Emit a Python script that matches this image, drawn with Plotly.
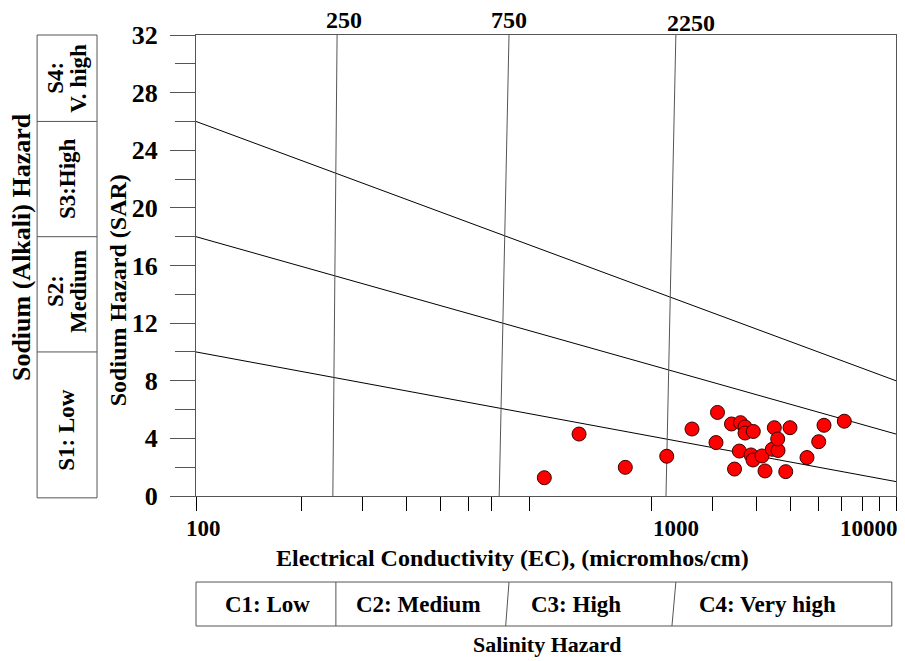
import math
import plotly.graph_objects as go

# ---- data ----
ec = [989, 1243, 1685, 2213, 2613, 3090, 3060, 3388, 3595, 3704, 3704, 3911, 3457, 3567,
      3852, 3903, 4141, 4224, 4432, 4602, 4491, 4592, 4979, 4841, 5568, 6014, 6227, 7117]
sar = [1.27, 4.30, 1.99, 2.76, 4.65, 5.80, 3.71, 5.00, 5.09, 4.79, 4.37, 4.48, 1.87, 3.12,
       2.85, 2.50, 2.78, 1.74, 3.24, 3.16, 4.74, 3.96, 4.74, 1.69, 2.67, 3.77, 4.91, 5.19]

# sodium-hazard boundary lines (SAR at EC=100 and EC=10000)
haz_left = [10.0, 18.0, 26.0]
haz_right = [1.0, 4.3, 8.0]
haz_ec = [100, 10000]

# salinity boundaries (slightly slanted in the reference): bottom / top EC
sal_names = ["250", "750", "2250"]
sal_bottom = [246, 735, 2202]
sal_top = [253, 784, 2350]

# axis ticks
x_ticks = [100, 200, 300, 400, 500, 600, 700, 900, 2000, 3000, 4000, 5000, 6000, 7000, 8000, 9000, 10000]
x_label_text = ["100", "1000", "10000"]
x_label_at = [100, 2000, 10000]
y_major = [0, 4, 8, 12, 16, 20, 24, 28, 32]
y_minor = [2, 6, 10, 14, 18, 22, 26, 30]

sodium_classes = [["S1: Low"], ["S2:", "Medium"], ["S3:High"], ["S4:", "V. high"]]
sodium_mid = [4.6, 14.2, 22.0, 29.0]
salinity_classes = ["C1: Low", "C2: Medium", "C3: High", "C4: Very high"]
salinity_mid = [160, 432, 1220, 4300]
div_bottom = [251, 767, 2290]
div_top = [251, 784, 2350]

FONT = "Liberation Serif, Times New Roman, serif"
AX = "#555555"


def px(v):
    """EC value -> paper x on the log axis (range 100..10000)."""
    return (math.log10(v) - 2.0) / 2.0


def bold(size):
    return dict(family=FONT, size=size, color="black", weight="bold")


fig = go.Figure()

for yl, yr in zip(haz_left, haz_right):
    fig.add_trace(go.Scatter(x=haz_ec, y=[yl, yr], mode="lines",
                             line=dict(color="black", width=1), hoverinfo="skip", showlegend=False))
for b, t in zip(sal_bottom, sal_top):
    fig.add_trace(go.Scatter(x=[b, t], y=[0, 32], mode="lines",
                             line=dict(color="#555555", width=1), hoverinfo="skip", showlegend=False))

fig.add_trace(go.Scatter(x=ec, y=sar, mode="markers",
                         marker=dict(size=14, color="#ff0000", line=dict(color="#3a0000", width=1)),
                         showlegend=False))

ann = []
# x labels (offset from the ticks as in the reference)
x_anchor = ["left", "left", "right"]
x_shift = [-12, 0, 4]
for t, v, a, s in zip(x_label_text, x_label_at, x_anchor, x_shift):
    ann.append(dict(x=math.log10(v), y=0, xref="x", yref="y", text=t, showarrow=False,
                    xanchor=a, yanchor="top", xshift=s, yshift=-18, font=bold(23)))
# top salinity boundary labels
top_shift = [7, 0, 15]
top_yshift = [0, 0, -3]
for n, t, s, ys in zip(sal_names, sal_top, top_shift, top_yshift):
    ann.append(dict(x=math.log10(t), y=1, xref="x", yref="paper", text=n, showarrow=False,
                    xanchor="center", yanchor="bottom", xshift=s, yshift=ys, font=bold(24)))

# left (sodium) box
box_x0, box_x1 = -0.227, -0.1414
edges = [10, 18, 26]
shapes = [dict(type="rect", xref="paper", yref="paper", x0=box_x0, x1=box_x1, y0=-0.004, y1=1,
               line=dict(color=AX, width=1))]
for e in edges:
    shapes.append(dict(type="line", xref="paper", yref="y", x0=box_x0, x1=box_x1, y0=e, y1=e,
                       line=dict(color=AX, width=1)))
for lines, m in zip(sodium_classes, sodium_mid):
    n = len(lines)
    for i, txt in enumerate(lines):
        ann.append(dict(x=(box_x0 + box_x1) / 2, y=m, xref="paper", yref="y", text=txt,
                        showarrow=False, textangle=-90, xanchor="center", yanchor="middle",
                        xshift=(i - (n - 1) / 2) * 23, font=bold(23)))

# bottom (salinity) box
by0, by1 = -0.282, -0.1866
shapes.append(dict(type="rect", xref="paper", yref="paper", x0=0, x1=0.994, y0=by0, y1=by1,
                   line=dict(color=AX, width=1)))
for b, t in zip(div_bottom, div_top):
    shapes.append(dict(type="line", xref="paper", yref="paper", x0=px(b), x1=px(t),
                       y0=by0, y1=by1, line=dict(color=AX, width=1)))
for txt, m in zip(salinity_classes, salinity_mid):
    ann.append(dict(x=px(m), y=(by0 + by1) / 2, xref="paper", yref="paper", text=txt,
                    showarrow=False, xanchor="center", yanchor="middle", font=bold(23)))

ann.append(dict(x=0.502, y=-0.323, xref="paper", yref="paper", text="Salinity Hazard", showarrow=False,
                xanchor="center", yanchor="middle", font=bold(22)))
ann.append(dict(x=-0.25, y=0.54, xref="paper", yref="paper", text="Sodium (Alkali) Hazard",
                showarrow=False, textangle=-90, xanchor="center", yanchor="middle", font=bold(26)))
ann.append(dict(x=-0.111, y=0.447, xref="paper", yref="paper", text="Sodium Hazard (SAR)",
                showarrow=False, textangle=-90, xanchor="center", yanchor="middle", font=bold(24)))
ann.append(dict(x=0.452, y=-0.135, xref="paper", yref="paper",
                text="Electrical Conductivity (EC), (micromhos/cm)",
                showarrow=False, xanchor="center", yanchor="middle", font=bold(24)))

# the page body adds an 8 px offset, so the figure is 8 px smaller on each side
fig.update_layout(
    width=897, height=653,
    margin=dict(l=188, r=9, t=27, b=165),
    plot_bgcolor="white", paper_bgcolor="white",
    annotations=ann, shapes=shapes,
    xaxis=dict(type="log", range=[2, 4], tickvals=x_ticks, ticktext=[""] * len(x_ticks),
               ticks="outside", ticklen=14, tickcolor="black", tickwidth=1,
               showgrid=False, zeroline=False, showline=True, linecolor=AX, linewidth=1, mirror=True),
    yaxis=dict(range=[0, 32], tickvals=y_major, ticks="outside", ticklen=25, tickcolor=AX, tickwidth=1,
               minor=dict(tickvals=y_minor, ticks="outside", ticklen=20, tickcolor=AX, showgrid=False),
               ticklabelstandoff=7, tickfont=bold(26),
               showgrid=False, zeroline=False, showline=True, linecolor=AX, linewidth=1, mirror=True),
)

fig.write_html("out.html")
